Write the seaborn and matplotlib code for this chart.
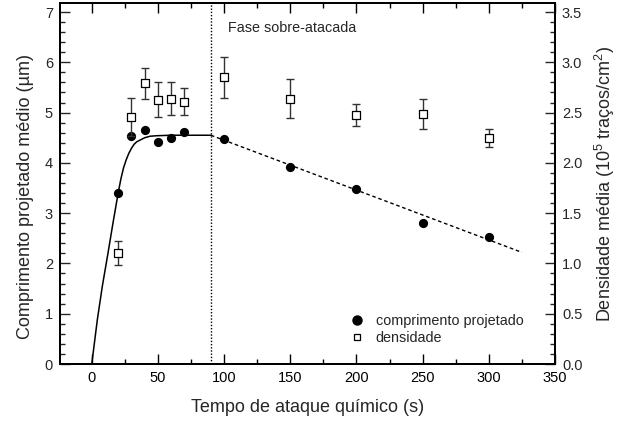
import matplotlib
matplotlib.use("Agg")
import matplotlib.pyplot as plt
import seaborn as sns
import pandas as pd
from matplotlib.ticker import MultipleLocator, FormatStrFormatter
from matplotlib.lines import Line2D

# ---- data ----
t_len = [20, 30, 40, 50, 60, 70, 100, 150, 200, 250, 300]
length = [3.41, 4.54, 4.66, 4.41, 4.49, 4.62, 4.47, 3.91, 3.49, 2.80, 2.52]

t_den = [20, 30, 40, 50, 60, 70, 100, 150, 200, 250, 300]
density = [1.10, 2.46, 2.79, 2.63, 2.64, 2.61, 2.85, 2.64, 2.48, 2.49, 2.25]
density_err = [0.12, 0.19, 0.15, 0.17, 0.16, 0.13, 0.20, 0.19, 0.11, 0.15, 0.09]

# fitted growth curve
fit_t = [0, 4.2, 8, 12.3, 16, 20, 22, 24, 26, 28, 30, 32, 34, 37, 40, 44, 49, 60, 90]
fit_y = [0, 0.88, 1.55, 2.21, 2.80, 3.41, 3.68, 3.90, 4.06, 4.19, 4.29, 4.37, 4.42, 4.46, 4.50, 4.53, 4.54, 4.55, 4.55]

# over-etched linear trend
over_t = [90, 325]
over_y = [4.55, 2.22]

phase_x = 90
phase_label = "Fase sobre-atacada"
legend_labels = ["comprimento projetado", "densidade"]

sns.set_style("ticks")
plt.rcParams["font.family"] = ["Liberation Sans", "DejaVu Sans"]
plt.rcParams["mathtext.fontset"] = "custom"
plt.rcParams["mathtext.rm"] = "Liberation Sans"

fig = plt.figure(figsize=(6.39, 4.23), dpi=100)
ax = fig.add_axes([60/639, 1-364/423, 495/639, 361/423])
ax2 = ax.twinx()

df_len = pd.DataFrame({"t": t_len, "y": length})
df_den = pd.DataFrame({"t": t_den, "y": density, "e": density_err})
df_fit = pd.DataFrame({"t": fit_t, "y": fit_y})
df_over = pd.DataFrame({"t": over_t, "y": over_y})

sns.lineplot(data=df_fit, x="t", y="y", ax=ax, color="black", lw=1.1, sort=False)
sns.lineplot(data=df_over, x="t", y="y", ax=ax, color="black", lw=1.0, sort=False,
             linestyle=(0, (2.6, 2.0)))
ax.axvline(phase_x, color="black", lw=1.0, linestyle=(0, (1, 1.3)))
sns.scatterplot(data=df_len, x="t", y="y", ax=ax, color="black", marker="o",
                s=44, edgecolor="black", linewidth=0, zorder=5)

ax2.errorbar(df_den["t"], df_den["y"], yerr=df_den["e"], fmt="none",
             ecolor="#333333", elinewidth=1.0, capsize=2.8, capthick=1.0, zorder=3)
sns.scatterplot(data=df_den, x="t", y="y", ax=ax2, color="white", marker="s",
                s=28, edgecolor="black", linewidth=0.9, zorder=5)

ax.set_xlim(-24, 350)
ax.set_ylim(0, 7.18)
ax2.set_ylim(0, 3.59)

ax.xaxis.set_major_locator(MultipleLocator(50))
ax.xaxis.set_minor_locator(MultipleLocator(25))
ax.yaxis.set_major_locator(MultipleLocator(1))
ax.yaxis.set_minor_locator(MultipleLocator(0.2))
ax2.yaxis.set_major_locator(MultipleLocator(0.5))
ax2.yaxis.set_minor_locator(MultipleLocator(0.1))
ax2.yaxis.set_major_formatter(FormatStrFormatter("%.1f"))

ax.tick_params(axis="x", which="both", direction="in", top=True, bottom=True,
               labelsize=10.5, colors="black")
ax.tick_params(axis="y", which="both", direction="in", left=True, right=False,
               labelsize=10.5)
ax.tick_params(which="major", length=7, width=1.0)
ax.tick_params(which="minor", length=3.5, width=1.0)
ax2.tick_params(axis="y", which="both", direction="in", labelsize=10.5)
ax2.tick_params(which="major", length=7, width=1.0)
ax2.tick_params(which="minor", length=3.5, width=1.0)
ax.tick_params(axis="both", which="major", pad=5)
ax2.tick_params(axis="y", which="major", pad=5)

for a in (ax, ax2):
    for s in a.spines.values():
        s.set_linewidth(1.4)
        s.set_color("black")
        s.set_visible(True)

ax.set_xlabel("Tempo de ataque químico (s)", fontsize=13)
ax.set_ylabel("Comprimento projetado médio (µm)", fontsize=13)
ax2.set_ylabel("Densidade média (10$^5$ traços/cm$^2$)", fontsize=13)
ax.xaxis.set_label_coords(0.5, -0.098)
ax.yaxis.set_label_coords(-0.052, 0.465)
ax2.yaxis.set_label_coords(1.077, 0.50)

ax.text(103, 6.60, phase_label, fontsize=10.4, va="baseline", ha="left")

handles = [
    Line2D([], [], marker="o", color="black", linestyle="none", markersize=6.5),
    Line2D([], [], marker="s", markerfacecolor="white", markeredgecolor="black",
           linestyle="none", markersize=5, markeredgewidth=0.9),
]
ax2.legend(handles, legend_labels, loc="lower left",
           bbox_to_anchor=(0.582, 0.052), frameon=False, fontsize=10.4,
           handletextpad=0.7, labelspacing=0.2, borderaxespad=0, handlelength=1.2,
           borderpad=0)

fig.savefig("out.png", dpi=100)
